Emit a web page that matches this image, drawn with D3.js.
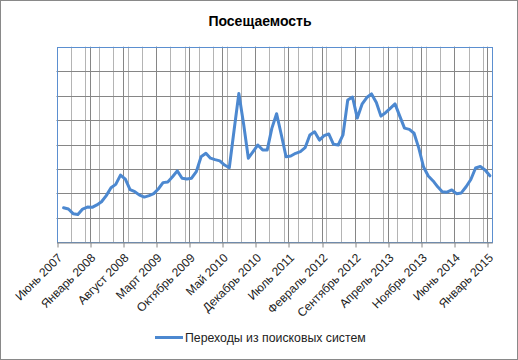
<!DOCTYPE html>
<html><head><meta charset="utf-8">
<script src="https://cdn.jsdelivr.net/npm/d3@7"></script>
<style>body{margin:0;background:#fff}svg{display:block}</style>
</head><body>
<script>
const title = "Посещаемость";
const seriesName = "Переходы из поисковых систем";
const firstMonth = [2007, 6];   // July 2007
const values = [1.41,1.36,1.17,1.14,1.36,1.44,1.43,1.53,1.66,1.91,2.23,2.37,2.75,2.58,2.15,2.07,1.93,1.85,1.91,1.99,
2.18,2.44,2.47,2.68,2.92,2.62,2.59,2.62,2.89,3.50,3.64,3.44,3.38,3.33,3.16,3.05,4.57,6.09,4.84,3.44,
3.71,3.98,3.78,3.78,4.66,5.26,4.40,3.50,3.53,3.64,3.71,3.87,4.39,4.52,4.18,4.36,4.43,4.01,3.98,4.39,
5.82,5.94,5.08,5.65,5.92,6.07,5.72,5.16,5.30,5.48,5.66,5.16,4.67,4.62,4.46,3.85,3.08,2.71,2.51,2.27,
2.07,2.05,2.14,1.99,2.02,2.27,2.57,3.04,3.10,2.96,2.72];
const tickLabels = ["Июнь 2007","Январь 2008","Август 2008","Март 2009","Октябрь 2009","Май 2010","Декабрь 2010",
"Июль 2011","Февраль 2012","Сентябрь 2012","Апрель 2013","Ноябрь 2013","Июнь 2014","Январь 2015"];
const yTicks = [0,1,2,3,4,5,6,7,8];

const W = 518, H = 360;
const svg = d3.select("body").append("svg").attr("width", W).attr("height", H);
svg.append("rect").attr("x",0.5).attr("y",0.5).attr("width",W-1).attr("height",H-1)
  .attr("fill","#fff").attr("stroke","#898989");

const months = values.map((v,i)=> new Date(firstMonth[0], firstMonth[1]+i, 1));
const axisStart = new Date(2007,5,1), axisEnd = new Date(2015,1,1);
const x = d3.scaleTime().domain([axisStart, axisEnd]).range([56.5, 492.3]);
const y = d3.scaleLinear().domain([0,8]).range([242.3, 46.7]);
const xMid = d => (x(d) + x(d3.timeMonth.offset(d,1)))/2;

const minorDates = d3.timeMonth.range(axisStart, axisEnd, 3);
const majorDates = d3.timeMonth.range(axisStart, axisEnd, 7);

// minor vertical gridlines
svg.append("g").selectAll("line").data(minorDates.slice(1)).join("line")
  .attr("x1", d=>Math.round(x(d))+0.5).attr("x2", d=>Math.round(x(d))+0.5)
  .attr("y1", y(8)).attr("y2", y(0)).attr("stroke","#b4b4b4").attr("stroke-width",1);
// major vertical gridlines
svg.append("g").selectAll("line").data(majorDates.slice(1)).join("line")
  .attr("x1", d=>Math.round(x(d))+0.5).attr("x2", d=>Math.round(x(d))+0.5)
  .attr("y1", y(8)).attr("y2", y(0)).attr("stroke","#868686").attr("stroke-width",1);
// horizontal gridlines
svg.append("g").selectAll("line").data(yTicks.slice(1,-1)).join("line")
  .attr("x1", x(axisStart)).attr("x2", x(axisEnd))
  .attr("y1", d=>Math.round(y(d))+0.5).attr("y2", d=>Math.round(y(d))+0.5)
  .attr("stroke","#868686").attr("stroke-width",1);

// plot border (blue)
svg.append("rect").attr("x", Math.round(x(axisStart))+0.5).attr("y", Math.round(y(8))+0.5)
  .attr("width", Math.round(x(axisEnd)) - Math.round(x(axisStart)))
  .attr("height", Math.round(y(0)) - Math.round(y(8)))
  .attr("fill","none").attr("stroke","#5b8fd0").attr("stroke-width",1);

// x axis
const xAxis = d3.axisBottom(x).tickValues(majorDates).tickFormat((d,i)=>tickLabels[i])
  .tickSizeOuter(0).tickSizeInner(5);
const gx = svg.append("g").attr("transform", `translate(0,${Math.round(y(0))+0.5})`).call(xAxis);
gx.select(".domain").attr("stroke","#868686");
gx.selectAll(".tick line").attr("stroke","#868686").attr("transform", d=>`translate(${Math.round(x(d))+0.5-x(d)},0)`);
gx.selectAll(".tick text")
  .attr("font-family","'Liberation Sans', Arial, sans-serif").attr("font-size","12px").attr("fill","#222")
  .attr("text-anchor","end").attr("y",0).attr("dy",0)
  .attr("transform","translate(6,16) rotate(-45)");

// line
const line = d3.line().x((d,i)=>xMid(months[i])).y(d=>y(d));
svg.append("path").datum(values).attr("d", line)
  .attr("fill","none").attr("stroke","#4c88d0").attr("stroke-width",3)
  .attr("stroke-linejoin","round").attr("stroke-linecap","round");

// title
svg.append("text").attr("x", 260).attr("y", 26).attr("text-anchor","middle")
  .attr("font-family","'Liberation Sans', Arial, sans-serif").attr("font-weight","bold")
  .attr("font-size","14px").attr("fill","#000").text(title);

// legend
const lg = svg.append("g");
lg.append("line").attr("x1",155).attr("x2",183).attr("y1",337.5).attr("y2",337.5)
  .attr("stroke","#4c88d0").attr("stroke-width",3);
lg.append("text").attr("x",185).attr("y",342)
  .attr("font-family","'Liberation Sans', Arial, sans-serif").attr("font-size","12.3px")
  .attr("fill","#222").text(seriesName);
</script>
</body></html>
